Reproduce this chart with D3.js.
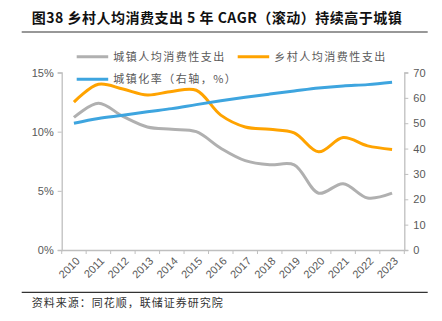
<!DOCTYPE html>
<html>
<head>
<meta charset="utf-8">
<script src="https://cdn.jsdelivr.net/npm/d3@7"></script>
<style>
  html, body { margin: 0; padding: 0; background: #fff; }
  svg { display: block; }
</style>
</head>
<body>
<script>
// Categories and series (5-year rolling CAGR of per-capita consumption, %; urbanization rate, %)
const years = ["2010","2011","2012","2013","2014","2015","2016","2017","2018","2019","2020","2021","2022","2023"];
const urbanSpend = [11.2, 12.4, 11.3, 10.4, 10.2, 10.0, 8.6, 7.55, 7.2, 7.2, 4.8, 5.6, 4.4, 4.8];
const ruralSpend = [12.5, 14.0, 13.6, 13.1, 13.4, 13.5, 11.4, 10.4, 10.2, 9.9, 8.3, 9.5, 8.8, 8.5];
const urbanRate = [49.95, 51.83, 53.10, 54.49, 55.75, 57.33, 58.84, 60.24, 61.50, 62.71, 63.89, 64.72, 65.22, 66.16];
const leftTicks = [0, 5, 10, 15];
const rightTicks = [0, 10, 20, 30, 40, 50, 60, 70];

const W = 442, H = 321;
const svg = d3.select("body").append("svg").attr("width", W).attr("height", H);

const plot = { left: 61.7, right: 404.3, top: 72.5, bottom: 250 };
const axisColor = "#BFBFBF";
const labelColor = "#595959";
const latin = "'Liberation Sans', Arial, sans-serif";
const cjk = "'Noto Sans CJK SC', sans-serif";

// Title and rules
svg.append("text").attr("x", 31.7).attr("y", 23)
  .attr("font-family", cjk).attr("font-weight", "bold").attr("font-size", 14)
  .attr("letter-spacing", 0.5).attr("fill", "#111")
  .text("图38 乡村人均消费支出 5 年 CAGR（滚动）持续高于城镇");
svg.append("line").attr("x1", 21.7).attr("x2", 427.7).attr("y1", 32).attr("y2", 32)
  .attr("stroke", "#333").attr("stroke-width", 1.2);
svg.append("line").attr("x1", 21.7).attr("x2", 427.7).attr("y1", 292.3).attr("y2", 292.3)
  .attr("stroke", "#333").attr("stroke-width", 1.2);
svg.append("text").attr("x", 31.7).attr("y", 307)
  .attr("font-family", cjk).attr("font-size", 11).attr("letter-spacing", 1)
  .attr("fill", "#333").text("资料来源：同花顺，联储证券研究院");

// Scales
const x = d3.scaleBand().domain(years).range([plot.left, plot.right]);
const yL = d3.scaleLinear().domain([0, 15]).range([plot.bottom, plot.top]);
const yR = d3.scaleLinear().domain([0, 70]).range([plot.bottom, plot.top]);
const cx = d => x(d) + x.bandwidth() / 2;

// Left axis
const gL = svg.append("g").attr("transform", `translate(${plot.left},0)`)
  .call(d3.axisLeft(yL).tickValues(leftTicks).tickFormat(d => d + "%").tickSize(4).tickPadding(4));
// Right axis
const gR = svg.append("g").attr("transform", `translate(${plot.right},0)`)
  .call(d3.axisRight(yR).tickValues(rightTicks).tickSize(4).tickPadding(5));
// Bottom axis: ticks on category boundaries
const boundaries = years.map(d => x(d)).concat([plot.right]);
const gB = svg.append("g").attr("transform", `translate(0,${plot.bottom})`)
  .call(d3.axisBottom(x).tickSize(0).tickPadding(0));
gB.selectAll(".tick").remove();
gB.selectAll(".bt").data(boundaries).join("line").attr("class", "bt")
  .attr("x1", d => d).attr("x2", d => d).attr("y1", 0).attr("y2", 4)
  .attr("stroke", axisColor);
gB.selectAll(".bl").data(years).join("text").attr("class", "bl")
  .attr("transform", d => `translate(${cx(d) + 4},${9}) rotate(-45)`)
  .attr("text-anchor", "end").attr("dy", "0.35em")
  .attr("font-family", latin).attr("font-size", 11).attr("fill", labelColor)
  .text(d => d);

[gL, gR, gB].forEach(g => {
  g.selectAll("path.domain").attr("stroke", axisColor).attr("stroke-width", 1.3);
  g.selectAll(".tick line").attr("stroke", axisColor);
  g.selectAll(".tick text").attr("font-family", latin).attr("font-size", 11).attr("fill", labelColor);
});

// Lines
const curve = d3.curveCatmullRom.alpha(0.5);
const lineL = d3.line().x((d, i) => cx(years[i])).y(d => yL(d)).curve(curve);
const lineR = d3.line().x((d, i) => cx(years[i])).y(d => yR(d)).curve(curve);

const grey = "#B0B0B0", orange = "#FFA300", blue = "#3EA5DF";
svg.append("path").attr("d", lineL(urbanSpend)).attr("fill", "none")
  .attr("stroke", grey).attr("stroke-width", 3);
svg.append("path").attr("d", lineL(ruralSpend)).attr("fill", "none")
  .attr("stroke", orange).attr("stroke-width", 3);
svg.append("path").attr("d", lineR(urbanRate)).attr("fill", "none")
  .attr("stroke", blue).attr("stroke-width", 3);

// Legend
const legend = [
  { label: "城镇人均消费性支出", color: grey, x: 76.7, y: 56.7 },
  { label: "乡村人均消费性支出", color: orange, x: 237.7, y: 56.7 },
  { label: "城镇化率（右轴，%）", color: blue, x: 76.7, y: 79.3 }
];
const lg = svg.append("g").selectAll("g").data(legend).join("g")
  .attr("transform", d => `translate(${d.x},${d.y})`);
lg.append("line").attr("x1", 0).attr("x2", 31.5).attr("y1", 0).attr("y2", 0)
  .attr("stroke", d => d.color).attr("stroke-width", 3);
lg.append("text").attr("x", 36.5).attr("dy", "0.36em")
  .attr("font-family", cjk).attr("font-size", 11).attr("letter-spacing", 1.5)
  .attr("fill", labelColor).text(d => d.label);
</script>
</body>
</html>
